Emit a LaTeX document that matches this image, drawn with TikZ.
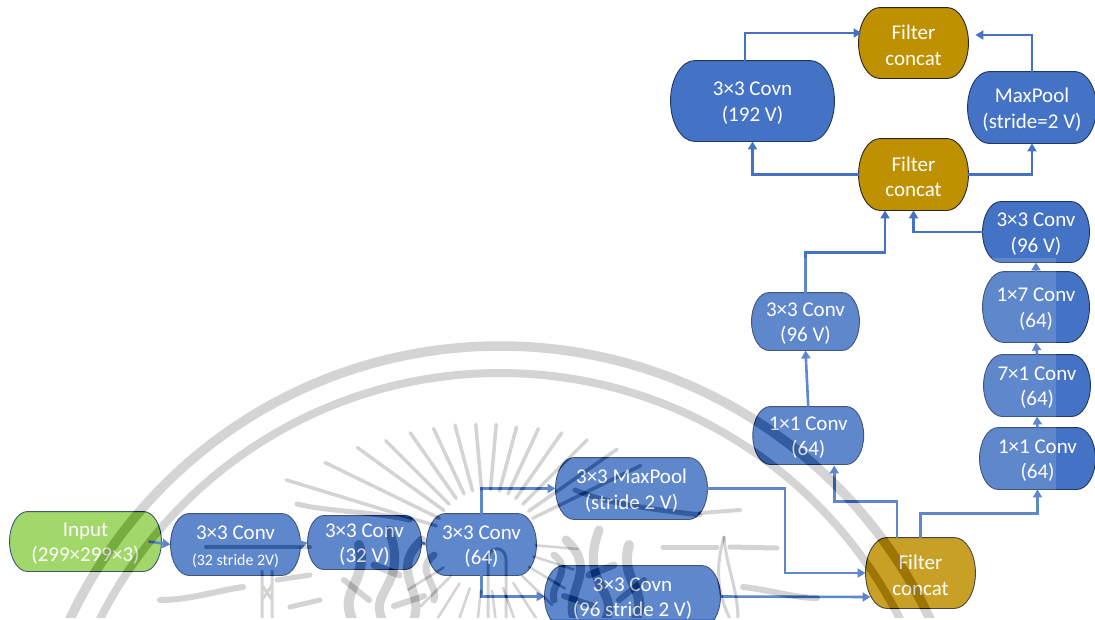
\documentclass[tikz,border=0pt]{standalone}
\usepackage{fontspec}
\setmainfont{Carlito}
\usetikzlibrary{arrows.meta}
\definecolor{officeblue}{HTML}{4472C4}
\definecolor{officegold}{HTML}{BF9000}
\definecolor{officegreen}{HTML}{92D050}
\definecolor{edgeblue}{HTML}{203864}
\definecolor{sealgray}{gray}{0.17}

% box with bulging ends, as in the slide
\makeatletter
\pgfdeclareshape{pill box}{
  \inheritsavedanchors[from=rectangle]
  \inheritanchorborder[from=rectangle]
  \inheritanchor[from=rectangle]{center}
  \anchor{text}{\pgfqpoint{0pt}{-2.2pt}}
  \inheritanchor[from=rectangle]{base}
  \inheritanchor[from=rectangle]{mid}
  \inheritanchor[from=rectangle]{north}
  \inheritanchor[from=rectangle]{south}
  \inheritanchor[from=rectangle]{east}
  \inheritanchor[from=rectangle]{west}
  \backgroundpath{
    \southwest \edef\pbl{\the\pgf@x}\edef\pbb{\the\pgf@y}
    \northeast \edef\pbr{\the\pgf@x}\edef\pbt{\the\pgf@y}
    \pgf@yc=\dimexpr(\pbt-\pbb)/2\relax \edef\pbh{\the\pgf@yc}
    \pgf@xc=\dimexpr(\pbt-\pbb)*3/10\relax \edef\pbw{\the\pgf@xc}
    \edef\pbm{\the\dimexpr\pbb+\pbh\relax}
    \pgfpathmoveto{\pgfqpoint{\pbl}{\pbm}}
    \pgfpathcurveto{\pgfqpoint{\pbl}{\dimexpr\pbm+\pbh*55/100\relax}}{\pgfqpoint{\dimexpr\pbl+\pbw*45/100\relax}{\pbt}}{\pgfqpoint{\dimexpr\pbl+\pbw\relax}{\pbt}}
    \pgfpathlineto{\pgfqpoint{\dimexpr\pbr-\pbw\relax}{\pbt}}
    \pgfpathcurveto{\pgfqpoint{\dimexpr\pbr-\pbw*45/100\relax}{\pbt}}{\pgfqpoint{\pbr}{\dimexpr\pbm+\pbh*55/100\relax}}{\pgfqpoint{\pbr}{\pbm}}
    \pgfpathcurveto{\pgfqpoint{\pbr}{\dimexpr\pbm-\pbh*55/100\relax}}{\pgfqpoint{\dimexpr\pbr-\pbw*45/100\relax}{\pbb}}{\pgfqpoint{\dimexpr\pbr-\pbw\relax}{\pbb}}
    \pgfpathlineto{\pgfqpoint{\dimexpr\pbl+\pbw\relax}{\pbb}}
    \pgfpathcurveto{\pgfqpoint{\dimexpr\pbl+\pbw*45/100\relax}{\pbb}}{\pgfqpoint{\pbl}{\dimexpr\pbm-\pbh*55/100\relax}}{\pgfqpoint{\pbl}{\pbm}}
    \pgfpathclose
  }
}
\makeatother

\tikzset{base node/.style={pill box,draw,line width=0.9pt,inner sep=0pt,text=white,align=center,
font=\fontsize{21}{25.5}\selectfont}}
\tikzset{conv node/.style={base node,draw=edgeblue,fill=officeblue}}
\tikzset{concat node/.style={base node,draw=black!85,fill=officegold}}
\tikzset{input node/.style={base node,draw=edgeblue,fill=officegreen}}
\tikzset{flow line/.style={draw=officeblue,line width=2.6pt,-{Triangle[length=8pt,width=9pt]}}}
\tikzset{seal line/.style={draw=sealgray,line cap=round}}

\begin{document}
\begin{tikzpicture}[x=1pt,y=-1pt]
\useasboundingbox (0,0) rectangle (1095,619);
\clip (0,0) rectangle (1095,619);
\fill[white] (0,0) rectangle (1095,619);

% bottom row
\node[input node,minimum width=151,minimum height=59] (input) at (85.5,541.5) {Input\\(299×299×3)};
\node[conv node,minimum width=129,minimum height=61] (convA) at (235.5,544.5) {3×3 Conv\\{\fontsize{15.9}{20}\selectfont (32 stride 2V)}};
\node[conv node,minimum width=113,minimum height=53] (convB) at (364.5,542.5) {3×3 Conv\\(32 V)};
\node[conv node,minimum width=109,minimum height=61] (convC) at (481.5,544.5) {3×3 Conv\\(64)};
\node[conv node,minimum width=151,minimum height=61] (maxpoolA) at (631.5,488.5) {3×3 MaxPool\\(stride 2 V)};
\node[conv node,minimum width=175,minimum height=61] (covnA) at (632.5,596.5) {3×3 Covn\\(96 stride 2 V)};
\node[concat node,minimum width=109,minimum height=70] (filterA) at (920.5,573) {Filter\\concat};

% left branch
\node[conv node,minimum width=110,minimum height=57] (convD) at (808.25,435.5) {1×1 Conv\\(64)};
\node[conv node,minimum width=107,minimum height=57] (convE) at (805.5,321.5) {3×3 Conv\\(96 V)};

% right branch
\node[conv node,minimum width=115,minimum height=61] (convF) at (1037.5,458.5) {1×1 Conv\\(64)};
\node[conv node,minimum width=106,minimum height=61] (convG) at (1037,385.5) {7×1 Conv\\(64)};
\node[conv node,minimum width=106,minimum height=70] (convH) at (1036,307) {1×7 Conv\\(64)};
\node[conv node,minimum width=106,minimum height=60] (convI) at (1036,232) {3×3 Conv\\(96 V)};

% top block
\node[concat node,minimum width=109,minimum height=71] (filterB) at (913.5,174.5) {Filter\\concat};
\node[concat node,minimum width=109,minimum height=70] (filterC) at (913.5,43) {Filter\\concat};
\node[conv node,minimum width=163,minimum height=80] (covnB) at (752.5,101) {3×3 Covn\\(192 V)};
\node[conv node,minimum width=128,minimum height=71] (maxpoolB) at (1032,107.5) {MaxPool\\(stride=2 V)};

% connectors
\coordinate (bendA) at (785,530);
\draw[flow line] ([xshift=-13]input.east) -- (convA.west);
\draw[flow line] (convA.east) -- (convB.west);
\draw[flow line,-] (convB.east) -- (convC.west);
\draw[flow line] (convC.north) |- (maxpoolA.west);
\draw[flow line] (convC.south) |- (covnA.west);
\draw[flow line] (maxpoolA.east) -| (bendA) |- (filterA.west);
\draw[flow line] (covnA.east) -- ([xshift=5,yshift=-24]filterA.west);
\draw[flow line] ([xshift=-23.5]filterA.north) |- ([xshift=26,yshift=-37]convD.south) -- ([xshift=26,yshift=-1]convD.south);
\draw[flow line] (filterA.north) |- ([yshift=-24]convF.south) -- (convF.south);
\draw[flow line] (convD.north) -- (convE.south);
\draw[flow line] (convE.north) |- ([xshift=-28.5,yshift=-42]filterB.south) -- ([xshift=-28.5]filterB.south);
\draw[flow line] (convF.north) -- (convG.south);
\draw[flow line] (convG.north) -- (convH.south);
\draw[flow line] (convH.north) -- (convI.south);
\draw[flow line] (convI.west) -| (filterB.south);
\draw[flow line] (filterB.west) -| (covnB.south);
\draw[flow line] (filterB.east) -| (maxpoolB.south);
\draw[flow line] ([xshift=-7.5]covnB.north) |- ([xshift=3,yshift=10]filterC.west);
\draw[flow line] (maxpoolB.north) |- ([xshift=7,yshift=8]filterC.east);

% pale sheet of the seal
\fill[white,opacity=0.15] (0,258) rectangle (1056,619);

% seal rings and rays
\begin{scope}[blend mode=difference]
\clip (0,258) rectangle (1056,617.5);
\draw[seal line,line width=9.5] (500,821) circle[radius=475];
\draw[seal line,line width=8] (500,821) circle[radius=448];

\foreach \a/\r in {-73/209,-64/179,-54/159,-45/142,-35/132,-25/124,-15/120,-5/117,5/117,15/118,25/124,35/132,45/143,55/160,64/172}{
    \draw[seal line,line width=3.5] (486,541) ++(\a-90:\r) -- ++(\a+90:\r-52);
}
\foreach \a in {-85,-72,...,70}{
    \draw[seal line,line width=2.5] (486,541) ++(\a+90:50) -- ++(\a+90:42);
}

% towers and long strokes
\draw[seal line,line width=6] (160,600) .. controls (190,600) and (220,590) .. (243,587);
\draw[seal line,line width=5] (277,580) -- (310,575);
\draw[seal line,line width=5] (290,607) -- (320,600);
\draw[seal line,line width=5] (297,504) .. controls (330,512) and (360,510) .. (410,520);
\draw[seal line,line width=4] (206,547) -- (310,547);
\draw[seal line,line width=4] (700,513) -- (740,510);
\draw[seal line,line width=5] (663,547) -- (717,547);
\draw[seal line,line width=5] (730,547) -- (777,548);
\draw[seal line,line width=6] (743,587) .. controls (770,590) and (795,598) .. (817,598);
\draw[seal line,line width=5] (575,490) .. controls (610,505) and (660,510) .. (700,515);
\draw[seal line,line width=3] (262,571) -- (262,619) (272,571) -- (272,619) (262,585) -- (272,600) (272,585) -- (262,600);
\draw[seal line,line width=3] (724,537) .. controls (716,565) and (716,590) .. (730,619);
\draw[seal line,line width=3] (724,537) .. controls (726,565) and (738,590) .. (738,619);
\draw[seal line,line width=3] (488,619) -- (488,560) .. controls (488,545) and (506,545) .. (506,560) -- (506,619);

% flames, left and right of the centre
\foreach \s in {1,-1}{
\begin{scope}[shift={(494,0)},xscale=\s]
\draw[seal line,line width=10] (-142,619) .. controls (-155,590) and (-125,580) .. (-135,545);
\draw[seal line,line width=9] (-112,619) .. controls (-125,590) and (-85,585) .. (-105,530);
\draw[seal line,line width=9] (-80,619) .. controls (-70,590) and (-105,570) .. (-72,540);
\draw[seal line,line width=7] (-120,565) -- (-95,575);
\draw[seal line,line width=7] (-60,600) .. controls (-55,585) and (-80,570) .. (-60,555);
\draw[seal line,line width=6] (-150,580) -- (-125,600);
\draw[seal line,line width=6] (-100,606) -- (-70,596);
\end{scope}
}
\end{scope}
\end{tikzpicture}
\end{document}
